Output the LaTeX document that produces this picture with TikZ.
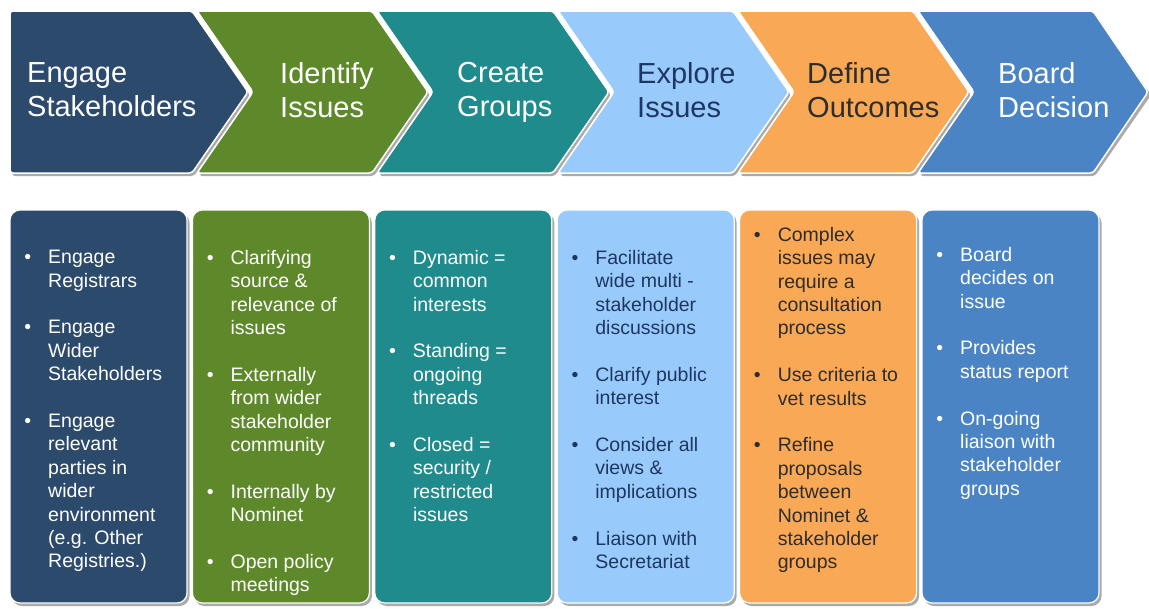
\documentclass[tikz,border=0pt]{standalone}
\usepackage{fontspec}
\setmainfont{Liberation Sans}
\definecolor{cA}{RGB}{44,74,108}
\definecolor{cB}{RGB}{94,137,42}
\definecolor{cC}{RGB}{32,139,140}
\definecolor{cD}{RGB}{152,202,252}
\definecolor{cE}{RGB}{249,168,86}
\definecolor{cF}{RGB}{74,132,196}
\definecolor{tD}{RGB}{30,55,98}
\definecolor{tE}{RGB}{45,45,45}
\definecolor{shadowc}{RGB}{170,170,170}
\newcommand\bitem{\leavevmode\llap{\textbullet\hspace{17pt}}}
\newcommand\isep{\\[23.4pt]}
\tikzset{
  chev/.style={draw=white, line width=1.5pt, rounded corners=3pt},
  chevshadow/.style={fill=shadowc, rounded corners=3pt},
  boxshape/.style={draw=white, line width=1.2pt, rounded corners=10pt},
  ctxt/.style={font=\fontsize{29}{34}\selectfont, align=left, anchor=north west, inner sep=0pt},
  btxt/.style={font=\fontsize{19.5}{23.4}\selectfont, align=left, anchor=north west, inner sep=0pt},
}
\begin{document}
\begin{tikzpicture}[x=1pt,y=-1pt]
\useasboundingbox[fill=white] (0,0) rectangle (1149,608);
% chevron shadows
\fill[chevshadow] (12,14) -- (194,14) -- (250,95) -- (194,176) -- (12,176) -- cycle;
\foreach \T/\R in {197/372, 377/553, 558/733, 738/913, 918/1093}{
  \fill[chevshadow] (\T+2,14) -- (\R+2,14) -- (\R+58,95) -- (\R+2,176) -- (\T+2,176) -- (\T+58,95) -- cycle;
}
% chevrons
\filldraw[chev, fill=cA] (10,11) -- (192,11) -- (248,92) -- (192,173) -- (10,173) -- cycle;
\filldraw[chev, fill=cB] (197,11) -- (372,11) -- (428,92) -- (372,173) -- (197,173) -- (253,92) -- cycle;
\filldraw[chev, fill=cC] (377,11) -- (553,11) -- (609,92) -- (553,173) -- (377,173) -- (433,92) -- cycle;
\filldraw[chev, fill=cD] (558,11) -- (733,11) -- (789,92) -- (733,173) -- (558,173) -- (614,92) -- cycle;
\filldraw[chev, fill=cE] (738,11) -- (913,11) -- (969,92) -- (913,173) -- (738,173) -- (794,92) -- cycle;
\filldraw[chev, fill=cF] (918,11) -- (1093,11) -- (1148,92) -- (1093,173) -- (918,173) -- (974,92) -- cycle;
% chevron texts
\node[ctxt, text=white] (h1) at (27,62) {Engage\\Stakeholders};
\node[ctxt, text=white] (h2) at (280,62) {Identify\\Issues};
\node[ctxt, text=white] (h3) at (457,62) {Create\\Groups};
\node[ctxt, text=tD] (h4) at (637,62) {Explore\\Issues};
\node[ctxt, text=tE] (h5) at (807,62) {Define\\Outcomes};
\node[ctxt, text=white] (h6) at (998,62) {Board\\Decision};
% boxes
\foreach \L/\col in {10/cA, 192.4/cB, 374.8/cC, 557.2/cD, 739.6/cE, 922/cF}{
  \fill[shadowc, rounded corners=10pt] (\L+2,213) rectangle (\L+179.5,606);
  \filldraw[boxshape, fill=\col] (\L,210) rectangle (\L+177,603);
}
% box texts
\node[btxt, text=white] (b1) at (48,250) {\bitem Engage\\Registrars\isep
  \bitem Engage\\Wider\\Stakeholders\isep
  \bitem Engage\\relevant\\parties in\\wider\\environment\\(e.g. Other\\Registries.)};
\node[btxt, text=white] (b2) at (230.4,250) {\bitem Clarifying\\source \&\\relevance of\\issues\isep
  \bitem Externally\\from wider\\stakeholder\\community\isep
  \bitem Internally by\\Nominet\isep
  \bitem Open policy\\meetings};
\node[btxt, text=white] (b3) at (412.8,250) {\bitem Dynamic =\\common\\interests\isep
  \bitem Standing =\\ongoing\\threads\isep
  \bitem Closed =\\security /\\restricted\\issues};
\node[btxt, text=tD] (b4) at (595.2,250) {\bitem Facilitate\\wide multi -\\stakeholder\\discussions\isep
  \bitem Clarify public\\interest\isep
  \bitem Consider all\\views \&\\implications\isep
  \bitem Liaison with\\Secretariat};
\node[btxt, text=tE] (b5) at (777.6,227) {\bitem Complex\\issues may\\require a\\consultation\\process\isep
  \bitem Use criteria to\\vet results\isep
  \bitem Refine\\proposals\\between\\Nominet \&\\stakeholder\\groups};
\node[btxt, text=white] (b6) at (960,247) {\bitem Board\\decides on\\issue\isep
  \bitem Provides\\status report\isep
  \bitem On-going\\liaison with\\stakeholder\\groups};
\end{tikzpicture}
\end{document}
